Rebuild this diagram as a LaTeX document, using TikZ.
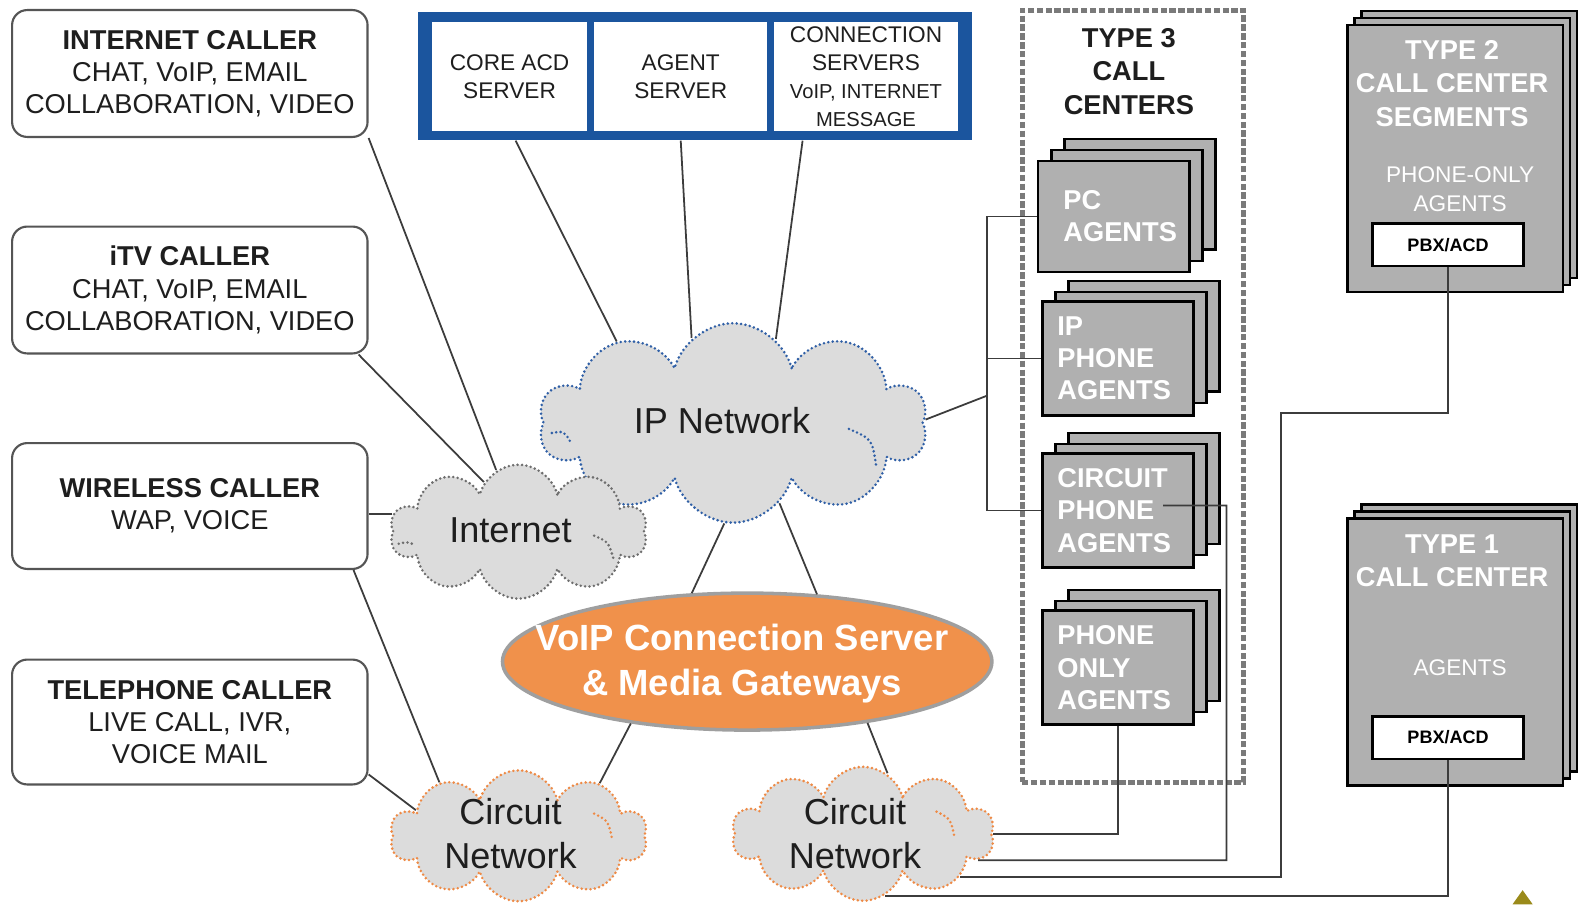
\documentclass[tikz,border=0pt]{standalone}
\usepackage{fontspec}
\setmainfont{Liberation Sans}
\usetikzlibrary{shapes.symbols,shapes.geometric,calc}
\definecolor{ink}{HTML}{1E1E1E}
\definecolor{wire}{HTML}{3C3C3C}
\definecolor{frame}{HTML}{555555}
\definecolor{srvblue}{HTML}{1B559E}
\definecolor{cloudfill}{HTML}{DCDCDC}
\definecolor{ipdot}{HTML}{2F5FA6}
\definecolor{inetdot}{HTML}{6E6E6E}
\definecolor{ckdot}{HTML}{EE8A45}
\definecolor{voip}{HTML}{F0914B}
\definecolor{agentgray}{HTML}{B0B0B0}
\definecolor{dashgray}{HTML}{7A7A7A}
\definecolor{logo}{HTML}{9A8A1A}
\tikzset{
  callerbox/.style={draw=frame,line width=0.6pt,fill=white,rounded corners=1.5mm,align=center,text=ink,minimum width=35.3mm,inner sep=0pt,font=\fontsize{7.7}{9.1}\selectfont},
  srvbox/.style={fill=white,minimum height=10.8mm,align=center,inner sep=0pt,text=ink,font=\fontsize{6.4}{7.9}\selectfont},
  dotline/.style={line width=0.8pt,dash pattern=on 0pt off 1.25pt,line cap=round},
  netcloud/.style={cloud,cloud puffs=10,cloud ignores aspect,fill=cloudfill,dotline,font=\fontsize{10.2}{12.5}\selectfont,text=ink,align=center,inner sep=0pt},
  agentbox/.style={draw=black,line width=0.7pt,fill=agentgray,minimum width=15mm,minimum height=11mm,text width=12mm,inner sep=1.5mm,align=left,text=white,font=\bfseries\fontsize{7.7}{9.1}\selectfont},
  backbox/.style={draw=black,line width=0.7pt,fill=agentgray},
  pbxbox/.style={draw=black,line width=0.7pt,fill=white,minimum width=15mm,minimum height=4.2mm,inner sep=0pt,font=\bfseries\fontsize{5.1}{6}\selectfont,text=black},
  link/.style={draw=wire,line width=0.5pt}
}
\begin{document}
\begin{tikzpicture}[x=0.1mm,y=-0.1mm,
    titletext/.style={font=\bfseries\fontsize{7.7}{9.4}\selectfont,align=center},
    subtext/.style={font=\fontsize{6.4}{8}\selectfont,align=center,text=white}
  ]
  \useasboundingbox (0,0) rectangle (1568,898);

  % callers
  \node[callerbox,minimum height=12.6mm] (icall) at (188.5,73) {{\bfseries INTERNET CALLER}\\CHAT, VoIP, EMAIL\\COLLABORATION, VIDEO};
  \node[callerbox,minimum height=12.6mm] (tvcall) at (188.5,288) {{\bfseries iTV CALLER}\\CHAT, VoIP, EMAIL\\COLLABORATION, VIDEO};
  \node[callerbox,minimum height=12.5mm] (wcall) at (188.5,502.5) {{\bfseries WIRELESS CALLER}\\WAP, VOICE};
  \node[callerbox,minimum height=12.4mm] (tcall) at (188.5,717) {{\bfseries TELEPHONE CALLER}\\LIVE CALL, IVR,\\VOICE MAIL};

  % servers
  \node[fill=srvblue,minimum width=55mm,minimum height=12.7mm,inner sep=0pt] (srv) at (690,75.5) {};
  \node[srvbox,minimum width=15.4mm] (acd) at (506,76) {CORE ACD\\SERVER};
  \node[srvbox,minimum width=17.2mm] (agsrv) at (676,76) {AGENT\\SERVER};
  \node[srvbox,minimum width=18.2mm] (consrv) at (860,76) {CONNECTION\\SERVERS\\{\fontsize{5.7}{7.2}\selectfont VoIP, INTERNET}\\{\fontsize{5.7}{7.2}\selectfont MESSAGE}};

  % type 3
  \node[draw=dashgray,line width=1.4pt,dash pattern=on 1.8pt off 0.7pt,minimum width=22mm,minimum height=76.7mm,inner sep=0pt] (t3) at (1125,393.5) {};
  \node[titletext,text=ink] (t3title) at (1121,71) {TYPE 3\\CALL\\CENTERS};
  \foreach \nm/\x/\y/\txt in {pca/1106/215/{\hspace*{1mm}PC\\\hspace*{1mm}AGENTS},ipa/1110/356/{IP\\PHONE\\AGENTS},cpa/1110/507/{CIRCUIT\\PHONE\\AGENTS},poa/1110/663/{PHONE\\ONLY\\AGENTS}} {
    \draw[backbox] (\x-75+26,\y-55-22) rectangle (\x+75+26,\y+55-22);
    \draw[backbox] (\x-75+13,\y-55-11) rectangle (\x+75+13,\y+55-11);
    \node[agentbox] (\nm) at (\x,\y) {\txt};
  }

  % type 2 and type 1
  \foreach \nm/\y in {t2/157.5,t1/647.5} {
    \draw[backbox] (1338+14,\y-132.5-14) rectangle (1552+14,\y+132.5-14);
    \draw[backbox] (1338+7,\y-132.5-7) rectangle (1552+7,\y+132.5-7);
    \node[backbox,minimum width=21.4mm,minimum height=26.5mm,inner sep=0pt] (\nm) at (1445,\y) {};
  }
  \node[titletext,text=white] (t2title) at (1442,83) {TYPE 2\\CALL CENTER\\SEGMENTS};
  \node[subtext] (t2ag) at (1450,188) {PHONE-ONLY\\AGENTS};
  \node[pbxbox] (pbx2) at (1438,243) {PBX/ACD};
  \node[titletext,text=white] (t1title) at (1442,557) {TYPE 1\\CALL CENTER};
  \node[subtext] (t1ag) at (1450,663) {AGENTS};
  \node[pbxbox] (pbx1) at (1438,732.5) {PBX/ACD};

  % networks
  \node[netcloud,draw=ipdot,minimum width=38.5mm,minimum height=19.8mm] (ipn) at (728,420) {};
  \node[font=\fontsize{10.2}{12.5}\selectfont,text=ink] (ipntxt) at (717,418) {IP Network};
  \draw[dotline,draw=ipdot] (548,430) .. controls (560,428) .. (566,438);
  \draw[dotline,draw=ipdot] (843,426) .. controls (866,436) .. (870,462);
  \node[netcloud,draw=inetdot,minimum width=25.5mm,minimum height=13.3mm] (inet) at (515,528) {};
  \node[font=\fontsize{10.2}{12.5}\selectfont,text=ink] (inettxt) at (507,527) {Internet};
  \draw[dotline,draw=inetdot] (590,532) .. controls (604,538) .. (609,554);
  \draw[dotline,draw=inetdot] (396,540) .. controls (404,538) .. (412,541);
  \node[netcloud,draw=ckdot,minimum width=25.5mm,minimum height=13mm] (ckl) at (515,830) {};
  \node[font=\fontsize{10.2}{12.5}\selectfont,text=ink,align=center] (ckltxt) at (507,828) {Circuit\\Network};
  \draw[dotline,draw=ckdot] (590,808) .. controls (604,815) .. (608,834);
  \node[netcloud,draw=ckdot,minimum width=26mm,minimum height=13.3mm] (ckr) at (857,828) {};
  \node[font=\fontsize{10.2}{12.5}\selectfont,text=ink,align=center] (ckrtxt) at (849,828) {Circuit\\Network};
  \draw[dotline,draw=ckdot] (930,806) .. controls (944,813) .. (948,832);
  \node[ellipse,fill=voip,draw=gray!75,line width=1pt,minimum width=48.6mm,minimum height=13.6mm,inner sep=0pt] (voip) at (742,657) {};
  \node[align=center,text=white,font=\bfseries\fontsize{10.3}{12.5}\selectfont] (voiptxt) at (737,659) {VoIP Connection Server\\\& Media Gateways};

  % links
  \draw[link] (icall.south east) -- (inet.110);
  \draw[link] ([xshift=-1mm]tvcall.south east) -- (inet.125);
  \draw[link] (inet.172) -- (inet.172 -| wcall.east);
  \draw[link] ([xshift=-1.5mm]wcall.south east) -- (ckl.146);
  \draw[link] ([yshift=1.1mm]tcall.south east) -- (ckl.166);
  \draw[link] ([xshift=0.6mm]acd.south |- srv.south) -- (ipn.145);
  \draw[link] (agsrv.south |- srv.south) -- (ipn.116);
  \draw[link] ([xshift=-6.3mm]consrv.south |- srv.south) -- (ipn.63);
  \draw[link] (ipn.265) -- (voip.129);
  \draw[link] (ipn.300) -- (voip.44);
  \draw[link] (voip.208) -- (ckl.33);
  \draw[link] (voip.333) -- (ckr.68);

  \coordinate (busj) at (980,393);
  \draw[link] (ipn.1) -- (busj);
  \draw[link] (pca.west) -| (busj) |- (cpa.west);
  \draw[link] (ipa.west) -- (ipa.west -| busj);

  \coordinate (cpj) at (1218,502);
  \coordinate (t2j) at (1272,410);
  \draw[link] ([xshift=4.5mm,yshift=0.5mm]cpa.center) -- (cpj) |- (ckr.347);
  \draw[link] (poa.south) |- (ckr.east);
  \draw[link] (pbx2.south) |- (t2j) |- (ckr.336);
  \draw[link] (pbx1.south) |- (ckr.289);

  \fill[logo] (1512,884) -- (1502,898) -- (1522,898) -- cycle;
\end{tikzpicture}
\end{document}
